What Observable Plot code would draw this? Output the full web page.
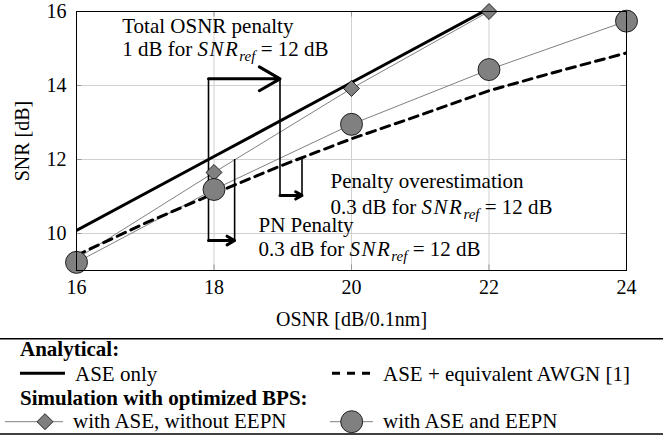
<!DOCTYPE html>
<html><head><meta charset="utf-8">
<script src="https://cdn.jsdelivr.net/npm/d3@7"></script>
<script src="https://cdn.jsdelivr.net/npm/@observablehq/plot@0.6"></script>
<style>
body{margin:0;background:#fff;font-family:'Liberation Serif','Times New Roman',Times,serif;}
#chart svg, #legend svg{display:block;}
</style></head><body><div id="chart"></div><div id="legend"></div>
<script>
const SERIF = "'Liberation Serif','Times New Roman',Times,serif";
// ticks
const osnrTicks = [16, 18, 20, 22, 24];
const snrTicks = [10, 12, 14, 16];
// Analytical: ASE only
const aseOnlyOsnr = [16, 18, 20, 22];
const aseOnlySnr = [10.08, 12.08, 14.08, 16.08];
// Analytical: ASE + equivalent AWGN [1]
const awgnOsnr = [16, 17, 18, 19, 20, 21, 22, 23, 24];
const awgnSnr = [9.41, 10.28, 11.08, 11.85, 12.56, 13.2, 13.86, 14.38, 14.88];
// Simulation: with ASE, without EEPN
const noEepnOsnr = [16, 18, 20, 22];
const noEepnSnr = [9.32, 11.65, 13.92, 16.0];
// Simulation: with ASE and EEPN
const eepnOsnr = [16, 18, 20, 22, 24];
const eepnSnr = [9.22, 11.19, 12.95, 14.43, 15.74];
// penalty arrows (OSNR from -> to, at SNR)
const arrowX1 = [17.92, 18.96, 17.92];
const arrowX2 = [18.96, 19.28, 18.30];
const arrowY = [14.18, 11.03, 9.81];
// vertical guide lines
const guideX = [17.92, 18.96, 19.28, 18.30];
const guideY1 = [9.81, 11.03, 11.03, 9.81];
const guideY2 = [14.18, 14.18, 12, 12];
// annotations
const noteX = [16.665, 16.665, 19.695, 19.695, 18.647, 18.647];
const noteY = [15.42, 14.8, 11.235, 10.53, 10.035, 9.405];
const noteText = ["Total OSNR penalty", "1 dB for SNR_ref = 12 dB",
  "Penalty overestimation", "0.3 dB for SNR_ref = 12 dB",
  "PN Penalty", "0.3 dB for SNR_ref = 12 dB"];
// legend
const legendHeads = ["Analytical:", "Simulation with optimized BPS:"];
const legendLabels = ["ASE only", "ASE + equivalent AWGN [1]", "with ASE, without EEPN", "with ASE and EEPN"];

const zip = (xs, ys) => xs.map((x, i) => ({x, y: ys[i]}));
const arrows = arrowX1.map((x1, i) => ({x1, x2: arrowX2[i], y: arrowY[i]}));
const guides = guideX.map((x, i) => ({x, y1: guideY1[i], y2: guideY2[i]}));
const notes = noteX.map((x, i) => ({x, y: noteY[i], text: noteText[i]}));

const chart = Plot.plot({
  width: 663, height: 338,
  marginLeft: 76, marginRight: 37, marginTop: 11, marginBottom: 68,
  style: {fontFamily: SERIF, fontSize: "20px", color: "#000", background: "#fff"},
  x: {domain: [16, 24]},
  y: {domain: [9, 16]},
  marks: [
    Plot.gridX(osnrTicks, {stroke: "#d0d0d0", strokeOpacity: 1}),
    Plot.gridY(snrTicks, {stroke: "#d0d0d0", strokeOpacity: 1}),
    Plot.ruleY(snrTicks, {x1: 16, x2: 16.08, stroke: "#999"}),
    Plot.ruleY(snrTicks, {x1: 23.92, x2: 24, stroke: "#999"}),
    Plot.ruleX(osnrTicks, {y1: 9, y2: 9.15, stroke: "#999"}),
    Plot.ruleX(osnrTicks, {y1: 15.85, y2: 16, stroke: "#999"}),
    Plot.axisX(osnrTicks, {tickSize: 0, tickPadding: 9, fontSize: 20, label: "OSNR [dB/0.1nm]", labelAnchor: "center", labelOffset: 55, labelArrow: "none"}),
    Plot.axisY(snrTicks, {tickSize: 0, tickPadding: 10, fontSize: 20, label: "SNR [dB]", labelAnchor: "center", labelOffset: 62, labelArrow: "none"}),
    Plot.line(zip(noEepnOsnr, noEepnSnr), {x: "x", y: "y", stroke: "#808080", strokeWidth: 1, clip: true}),
    Plot.line(zip(eepnOsnr, eepnSnr), {x: "x", y: "y", stroke: "#808080", strokeWidth: 1, clip: true}),
    Plot.line(zip(aseOnlyOsnr, aseOnlySnr), {x: "x", y: "y", stroke: "#000", strokeWidth: 3, clip: true}),
    Plot.line(zip(awgnOsnr, awgnSnr), {x: "x", y: "y", stroke: "#000", strokeWidth: 3, strokeDasharray: "9,6", clip: true}),
    Plot.ruleX(guides, {x: "x", y1: "y1", y2: "y2", stroke: "#000", strokeWidth: 1.6}),
    Plot.arrow(arrows, {x1: "x1", x2: "x2", y1: "y", y2: "y", stroke: "#000", strokeWidth: 3, headLength: 12, headAngle: 60}),
    Plot.text(notes, {x: "x", y: "y", text: "text", textAnchor: "start", lineAnchor: "bottom", fontSize: 21, fill: "#000"}),
    Plot.dot(zip(noEepnOsnr, noEepnSnr), {x: "x", y: "y", symbol: "diamond2", r: 7.2, fill: "#808080", stroke: "#000", strokeWidth: 0.8}),
    Plot.dot(zip(eepnOsnr, eepnSnr), {x: "x", y: "y", symbol: "circle", r: 11, fill: "#808080", stroke: "#000", strokeWidth: 0.8}),
    Plot.frame({stroke: "#000", strokeWidth: 1})
  ]
});

// render SNR_ref math as italic with subscript
d3.select(chart).selectAll("text").each(function() {
  const t = this.textContent;
  if (!t.includes("SNR_ref")) return;
  const [pre, post] = t.split("SNR_ref");
  const sel = d3.select(this);
  sel.selectAll("*").remove();
  sel.text(null);
  sel.append("tspan").text(pre);
  sel.append("tspan").attr("font-style", "italic").attr("letter-spacing", "1.5px").text("SNR");
  sel.append("tspan").attr("font-style", "italic").attr("font-size", "15px").attr("dy", "5").text("ref");
  sel.append("tspan").attr("dy", "-5").text(post);
});
document.getElementById("chart").appendChild(chart);

// legend
const leg = d3.create("svg").attr("width", 663).attr("height", 100)
  .style("font-family", SERIF).style("font-size", "21px");
leg.append("line").attr("x1", 0).attr("x2", 663).attr("y1", 0.75).attr("y2", 0.75).attr("stroke", "#000").attr("stroke-width", 1.5);
leg.append("line").attr("x1", 0).attr("x2", 663).attr("y1", 96).attr("y2", 96).attr("stroke", "#000").attr("stroke-width", 1.5);
leg.append("text").attr("x", 20).attr("y", 17.7).attr("font-weight", "bold").text(legendHeads[0]);
leg.append("text").attr("x", 20).attr("y", 67).attr("font-weight", "bold").text(legendHeads[1]);
leg.append("line").attr("x1", 20).attr("x2", 65).attr("y1", 35.3).attr("y2", 35.3).attr("stroke", "#000").attr("stroke-width", 3);
leg.append("text").attr("x", 75).attr("y", 42.7).text(legendLabels[0]);
leg.append("line").attr("x1", 332).attr("x2", 371).attr("y1", 35.3).attr("y2", 35.3).attr("stroke", "#000").attr("stroke-width", 3).attr("stroke-dasharray", "8,7");
leg.append("text").attr("x", 383).attr("y", 42.7).text(legendLabels[1]);
leg.append("line").attr("x1", 5).attr("x2", 63).attr("y1", 83.7).attr("y2", 83.7).attr("stroke", "#808080").attr("stroke-width", 1);
leg.append("path").attr("d", d3.symbol(d3.symbolDiamond2, Math.PI * 7.2 * 7.2)()).attr("transform", "translate(45,83.7)").attr("fill", "#808080").attr("stroke", "#000").attr("stroke-width", 0.8);
leg.append("text").attr("x", 73).attr("y", 89.7).text(legendLabels[2]);
leg.append("line").attr("x1", 330).attr("x2", 373).attr("y1", 83.7).attr("y2", 83.7).attr("stroke", "#808080").attr("stroke-width", 1);
leg.append("circle").attr("cx", 351.7).attr("cy", 83.7).attr("r", 11).attr("fill", "#808080").attr("stroke", "#000").attr("stroke-width", 0.8);
leg.append("text").attr("x", 383).attr("y", 89.7).text(legendLabels[3]);
document.getElementById("legend").appendChild(leg.node());
</script></body></html>
